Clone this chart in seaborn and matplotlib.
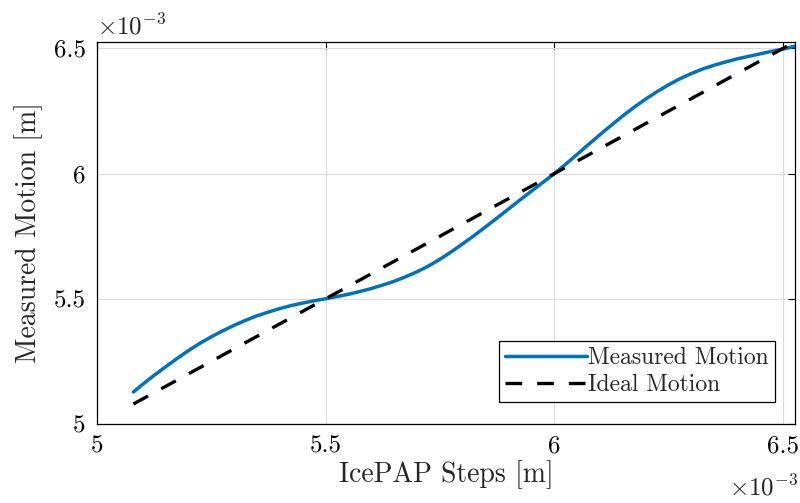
import matplotlib
matplotlib.use("Agg")
import matplotlib.pyplot as plt
import seaborn as sns
import pandas as pd

# values in units of 1e-3 m
icepap_steps = [5.08, 5.10, 5.125, 5.15, 5.175, 5.20, 5.225, 5.25, 5.275, 5.30,
                5.325, 5.35, 5.375, 5.40, 5.425, 5.45, 5.475, 5.50, 5.525, 5.55,
                5.575, 5.60, 5.625, 5.65, 5.675, 5.70, 5.725, 5.75, 5.775, 5.80,
                5.825, 5.85, 5.875, 5.90, 5.925, 5.95, 5.975, 6.00, 6.025, 6.05,
                6.075, 6.10, 6.125, 6.15, 6.175, 6.20, 6.225, 6.25, 6.275, 6.30,
                6.325, 6.35, 6.375, 6.40, 6.425, 6.45, 6.475, 6.50, 6.53]
measured_motion = [5.128, 5.158, 5.194, 5.228, 5.261, 5.293, 5.322, 5.348, 5.372, 5.394,
                   5.414, 5.432, 5.447, 5.461, 5.473, 5.483, 5.492, 5.500, 5.509, 5.518,
                   5.529, 5.541, 5.555, 5.570, 5.588, 5.608, 5.631, 5.658, 5.688, 5.720,
                   5.753, 5.788, 5.823, 5.859, 5.895, 5.930, 5.965, 6.000, 6.038, 6.077,
                   6.117, 6.156, 6.194, 6.231, 6.266, 6.298, 6.328, 6.355, 6.379, 6.400,
                   6.418, 6.433, 6.446, 6.458, 6.468, 6.478, 6.488, 6.497, 6.510]
ideal_steps = [5.08, 6.53]
ideal_motion = [5.08, 6.53]
tick_values = [5, 5.5, 6, 6.5]
tick_labels = ["5", "5.5", "6", "6.5"]

sns.set_style("white")
plt.rcParams["font.family"] = ["cmr10", "DejaVu Serif"]
plt.rcParams["mathtext.fontset"] = "cm"
plt.rcParams["axes.unicode_minus"] = False

fig = plt.figure(figsize=(8, 5.03), dpi=100)
ax = fig.add_axes([0.121, 0.157, 0.873, 0.760])

df_m = pd.DataFrame({"x": icepap_steps, "y": measured_motion})
df_i = pd.DataFrame({"x": ideal_steps, "y": ideal_motion})
sns.lineplot(data=df_m, x="x", y="y", ax=ax, color="#0072BD", linewidth=2.5,
             label="Measured Motion", sort=False)
sns.lineplot(data=df_i, x="x", y="y", ax=ax, color="black", linewidth=2.4,
             linestyle=(0, (5.0, 4.5)), label="Ideal Motion", sort=False)

ax.set_xlim(5, 6.526)
ax.set_ylim(5, 6.526)
ax.set_xticks(tick_values)
ax.set_xticklabels(tick_labels)
ax.set_yticks(tick_values)
ax.set_yticklabels(tick_labels)
ax.tick_params(direction="in", top=True, right=True, length=5, width=0.8,
               labelsize=18, colors="black", pad=8)
ax.grid(True, color="#dcdcdc", linewidth=0.8)
for s in ax.spines.values():
    s.set_visible(True)
    s.set_color("black")
    s.set_linewidth(0.9)

ax.set_xlabel("IcePAP Steps [m]", fontsize=20, labelpad=2)
ax.set_ylabel("Measured Motion [m]", fontsize=20, labelpad=8)

ax.text(0.0, 1.005, r"$\times10^{-3}$", transform=ax.transAxes, fontsize=18,
        ha="left", va="bottom")
ax.text(1.004, -0.165, r"$\times10^{-3}$", transform=ax.transAxes, fontsize=18,
        ha="right", va="center")

leg = ax.legend(loc="lower right", bbox_to_anchor=(0.971, 0.058), fontsize=17,
                frameon=True, fancybox=False, edgecolor="black", framealpha=1,
                handlelength=3.5, handletextpad=0.05, borderpad=0.25,
                labelspacing=0.2, borderaxespad=0)
leg.get_frame().set_linewidth(0.9)

fig.savefig("out.png", dpi=100)
